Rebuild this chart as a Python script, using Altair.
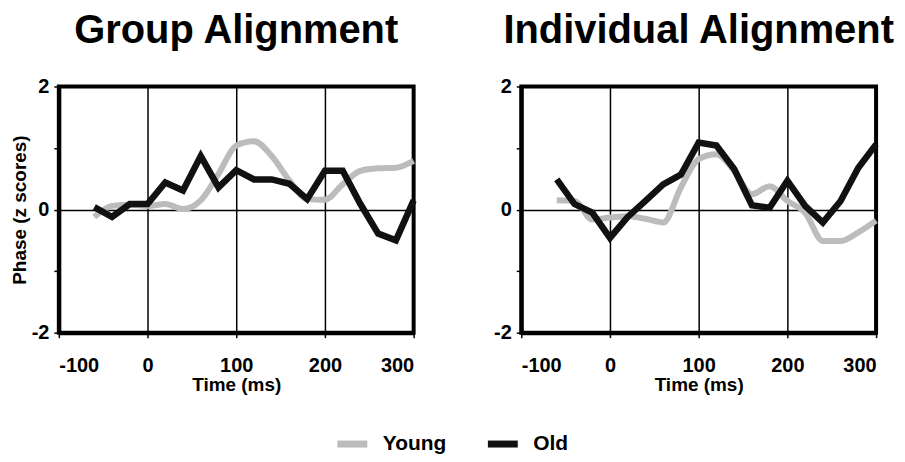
import altair as alt
import pandas as pd

# ---- data ----
time_ms = [-60, -40, -20, 0, 20, 40, 60, 80, 100, 120, 140, 160, 180, 200, 220, 240, 260, 280, 300]
group_young = [-0.12, 0.06, 0.08, 0.06, 0.09, 0.01, 0.15, 0.58, 1.04, 1.11, 0.87, 0.47, 0.17, 0.16, 0.41, 0.63, 0.67, 0.68, 0.79]
group_old = [0.04, -0.12, 0.09, 0.09, 0.44, 0.31, 0.87, 0.36, 0.64, 0.49, 0.49, 0.42, 0.17, 0.63, 0.63, 0.09, -0.39, -0.50, 0.15]
indiv_young = [0.15, 0.14, -0.16, -0.13, -0.11, -0.15, -0.21, 0.36, 0.82, 0.90, 0.63, 0.25, 0.38, 0.14, -0.05, -0.51, -0.51, -0.37, -0.18]
indiv_old = [0.49, 0.09, -0.05, -0.46, -0.12, 0.14, 0.41, 0.57, 1.09, 1.04, 0.66, 0.07, 0.03, 0.47, 0.06, -0.21, 0.14, 0.68, 1.06]

series_names = ["Young", "Old"]
series_colors = ["#bcbcbe", "#111111"]
x_ticks = [-100, 0, 100, 200, 300]
y_ticks = [-2, -1, 0, 1, 2]

FONT = "Liberation Sans, Arial, Helvetica, sans-serif"


def make_df(young, old):
    rows = []
    for t, v in zip(time_ms, young):
        rows.append({"time": t, "value": v, "series": "Young"})
    for t, v in zip(time_ms, old):
        rows.append({"time": t, "value": v, "series": "Old"})
    return pd.DataFrame(rows)


color = alt.Color(
    "series:N",
    scale=alt.Scale(domain=series_names, range=series_colors),
    legend=alt.Legend(
        title=None,
        orient="none",
        legendX=276,
        legendY=340,
        direction="horizontal",
        symbolType="stroke",
        symbolStrokeWidth=7,
        symbolSize=900,
        labelFont=FONT,
        labelFontSize=21,
        labelFontWeight="bold",
        labelColor="black",
        labelOffset=12,
        columnPadding=27,
    ),
)


def panel(df, title, show_ytitle):
    x = alt.X(
        "time:Q",
        scale=alt.Scale(domain=[-100, 300], nice=False, zero=False),
        axis=alt.Axis(values=x_ticks, title="Time (ms)", labelExpr="'' + datum.value",
                      labelPadding=18, titlePadding=0),
    )
    y = alt.Y(
        "value:Q",
        scale=alt.Scale(domain=[-2, 2], nice=False),
        axis=alt.Axis(
            values=y_ticks,
            title="Phase (z scores)" if show_ytitle else None,
            labelExpr="datum.value % 2 === 0 ? '' + datum.value : ''",
            gridOpacity={"condition": {"test": "datum.value === 0", "value": 1}, "value": 0},
            labelPadding=5,
            titlePadding=2,
        ),
    )
    base = alt.Chart(df)
    young = base.transform_filter(alt.datum.series == "Young").mark_line(
        strokeWidth=6, interpolate="monotone"
    ).encode(x=x, y=y, color=color)
    old = base.transform_filter(alt.datum.series == "Old").mark_line(
        strokeWidth=6.5, interpolate="linear"
    ).encode(x=x, y=y, color=color)
    return alt.layer(young, old).properties(
        width=356,
        height=247,
        title=alt.TitleParams(
            title, font=FONT, fontSize=40, fontWeight="bold", color="black",
            anchor="middle", offset=26,
        ),
    )


left = panel(make_df(group_young, group_old), "Group Alignment", True)
right = panel(make_df(indiv_young, indiv_old), "Individual Alignment", False)

chart = alt.hconcat(left, right, spacing=63).properties(
    padding={"left": 0, "top": 0, "right": 0, "bottom": 0}
).configure_view(
    stroke="black", strokeWidth=4
).configure_axis(
    labelFont=FONT, labelFontSize=20, labelFontWeight="bold", labelColor="black",
    titleFont=FONT, titleFontSize=19, titleFontWeight="bold", titleColor="black",
    domain=True, domainColor="black", domainWidth=4,
    tickColor="black", tickWidth=1.5, tickSize=5,
    grid=True, gridColor="black", gridWidth=1.5,
).configure_axisX(
    gridOpacity=1,
)

chart.save("out.html", embed_options={"renderer": "svg", "actions": False})
